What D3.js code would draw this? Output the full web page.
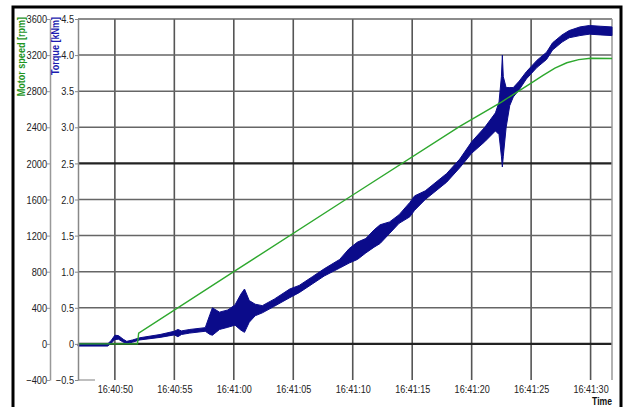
<!DOCTYPE html>
<html lang="en">
<head>
<meta charset="utf-8">
<title>Motor speed and torque</title>
<script src="https://cdn.jsdelivr.net/npm/d3@7"></script>
<style>
  body { margin: 0; background: #fff; }
  svg { font-family: "Liberation Sans", Arial, sans-serif; }
</style>
</head>
<body>
<div id="chart"></div>
<script>
// time is seconds after 16:40:00
var speedSec = [46.9, 51.9, 52.0, 60, 70, 79, 82.5, 85, 86, 87, 88, 89, 90, 91.8];
var speedRpm = [0, 0, 120, 800, 1650, 2410, 2680, 2890, 2975, 3055, 3115, 3150, 3165, 3162];

// torque band (min / max of the noisy trace), kNm
var torqueSec = [46.9, 49.4, 49.7, 50.0, 50.3, 50.7, 51.0, 51.5, 52.1, 53.8, 55.0, 55.3, 55.6, 56.3,
  57.6, 58.0, 58.2, 58.8, 59.5, 60.1, 60.6, 60.9, 61.3, 61.8, 62.4, 63.4, 64.7, 65.5, 66.6, 67.6,
  68.9, 69.7, 70.4, 71.1, 71.8, 72.3, 73.1, 73.9, 74.8, 75.2, 76.1, 77.9, 79.0, 80.0, 81.1, 82.0,
  82.3, 82.5, 82.58, 82.66, 82.9, 83.2, 83.5, 84.0, 84.6, 85.5, 86.3, 86.8, 87.6, 88.2, 89.1,
  89.9, 90.8, 91.8];
var torqueLo = [-0.03, -0.03, 0.01, 0.06, 0.065, 0.025, 0.005, 0.025, 0.055, 0.09, 0.125, 0.10, 0.13, 0.15,
  0.175, 0.13, 0.12, 0.20, 0.23, 0.26, 0.19, 0.16, 0.30, 0.39, 0.43, 0.52, 0.64, 0.71, 0.83, 0.94,
  1.05, 1.12, 1.17, 1.26, 1.34, 1.39, 1.53, 1.67, 1.76, 1.85, 2.00, 2.24, 2.44, 2.64, 2.80, 2.95,
  2.90, 2.60, 2.45, 2.60, 3.00, 3.30, 3.42, 3.52, 3.67, 3.83, 3.94, 4.07, 4.18, 4.24, 4.27,
  4.29, 4.28, 4.27];
var torqueHi = [0.0, 0.0, 0.05, 0.12, 0.115, 0.065, 0.035, 0.055, 0.085, 0.13, 0.175, 0.20, 0.18, 0.20,
  0.225, 0.41, 0.50, 0.44, 0.47, 0.54, 0.69, 0.76, 0.60, 0.55, 0.53, 0.62, 0.76, 0.81, 0.93, 1.04,
  1.17, 1.32, 1.41, 1.46, 1.58, 1.65, 1.69, 1.79, 1.96, 2.05, 2.12, 2.36, 2.56, 2.80, 3.00, 3.20,
  3.35, 3.70, 4.00, 3.70, 3.55, 3.55, 3.55, 3.64, 3.77, 3.93, 4.04, 4.17, 4.28, 4.34, 4.39,
  4.41, 4.40, 4.39];

var rpmTicks = [-400, 0, 400, 800, 1200, 1600, 2000, 2400, 2800, 3200, 3600];
var torqueTicks = [-0.5, 0, 0.5, 1.0, 1.5, 2.0, 2.5, 3.0, 3.5, 4.0, 4.5];

var W = 629, H = 407;
var pl = 78, pr = 612, pt = 19, pb = 380;

function toDate(s) { return new Date(2020, 0, 1, 16, 40, 0, Math.round(s * 1000)); }

var svg = d3.select("#chart").append("svg")
    .attr("width", W)
    .attr("height", H);

// outer frame
svg.append("path")
    .attr("d", "M13,420V7H621V420")
    .attr("fill", "none")
    .attr("stroke", "#000")
    .attr("stroke-width", 3);

var x = d3.scaleTime()
    .domain([toDate(46.9), toDate(91.8)])
    .range([pl, pr]);
var yT = d3.scaleLinear().domain([-0.5, 4.5]).range([pb, pt]);
var yS = d3.scaleLinear().domain([-400, 3600]).range([pb, pt]);

var xTicks = x.ticks(d3.timeSecond.every(5));

// grid
var grid = svg.append("g");
grid.selectAll(".vg")
    .data(xTicks)
    .enter().append("line")
    .attr("x1", function(d) { return x(d); })
    .attr("x2", function(d) { return x(d); })
    .attr("y1", pt).attr("y2", pb)
    .attr("stroke", "#555")
    .attr("stroke-width", 1.6);

grid.selectAll(".hg")
    .data(torqueTicks.filter(function(d) { return d > -0.5; }))
    .enter().append("line")
    .attr("x1", pl).attr("x2", pr)
    .attr("y1", function(d) { return yT(d); })
    .attr("y2", function(d) { return yT(d); })
    .attr("stroke", function(d) { return (d === 0 || d === 2.5) ? "#222" : "#666"; })
    .attr("stroke-width", function(d) { return (d === 0 || d === 2.5) ? 2.2 : 1.5; });

// right border and short bottom piece
grid.append("line")
    .attr("x1", pr).attr("x2", pr).attr("y1", pt).attr("y2", pb)
    .attr("stroke", "#999").attr("stroke-width", 1.5);
grid.append("line")
    .attr("x1", pl).attr("x2", pl + 17).attr("y1", pb).attr("y2", pb)
    .attr("stroke", "#aaa").attr("stroke-width", 1.5);

// torque band
var torque = torqueSec.map(function(s, i) {
    return { t: toDate(s), lo: torqueLo[i], hi: torqueHi[i] };
});
var band = d3.area()
    .x(function(d) { return x(d.t); })
    .y0(function(d) { return yT(d.lo); })
    .y1(function(d) { return yT(d.hi); });
svg.append("path")
    .datum(torque)
    .attr("d", band)
    .attr("fill", "#0b0b8a")
    .attr("stroke", "#0b0b8a")
    .attr("stroke-width", 1)
    .attr("stroke-linejoin", "round");

// motor speed
var speed = speedSec.map(function(s, i) { return { t: toDate(s), v: speedRpm[i] }; });
svg.append("path")
    .datum(speed)
    .attr("d", d3.line()
        .x(function(d) { return x(d.t); })
        .y(function(d) { return yS(d.v); }))
    .attr("fill", "none")
    .attr("stroke", "#2ea82e")
    .attr("stroke-width", 1.4);

// axes
function squeeze(sel, k) {
    sel.selectAll("text").each(function() {
        var w = this.getComputedTextLength();
        d3.select(this).attr("textLength", w * k).attr("lengthAdjust", "spacingAndGlyphs");
    });
}

var xAxis = svg.append("g")
    .attr("transform", "translate(0," + pb + ")")
    .call(d3.axisBottom(x).tickValues(xTicks).tickFormat(d3.timeFormat("%H:%M:%S"))
        .tickSize(0).tickPadding(5));
xAxis.select(".domain").remove();
xAxis.selectAll("text").attr("font-size", 11).attr("fill", "#222");
squeeze(xAxis, 0.82);

var tAxis = svg.append("g")
    .attr("transform", "translate(" + pl + ",0)")
    .call(d3.axisLeft(yT).tickValues(torqueTicks).tickFormat(function(d) {
        return d === 0 ? "0" : d3.format(".1f")(d);
    }).tickSize(3).tickPadding(1).tickSizeOuter(0));
tAxis.select(".domain").attr("stroke", "#888").attr("stroke-width", 1.5);
tAxis.selectAll(".tick line").attr("stroke", "#888");
tAxis.selectAll("text").attr("font-size", 11.5).attr("fill", "#222");
squeeze(tAxis, 0.8);

var sAxis = svg.append("g")
    .attr("transform", "translate(50,0)")
    .call(d3.axisLeft(yS).tickValues(rpmTicks).tickFormat(d3.format("d"))
        .tickSize(3).tickPadding(0).tickSizeOuter(0));
sAxis.select(".domain").attr("stroke", "#999").attr("stroke-width", 1.5);
sAxis.selectAll(".tick line").attr("stroke", "#999");
sAxis.selectAll("text").attr("font-size", 11.5).attr("fill", "#222");
squeeze(sAxis, 0.8);

// titles
var t1 = svg.append("text")
    .attr("transform", "translate(25,17) rotate(-90)")
    .attr("text-anchor", "end")
    .attr("font-size", 10.5)
    .attr("font-weight", "bold")
    .attr("fill", "#1f951f")
    .text("Motor speed [rpm]");
var t2 = svg.append("text")
    .attr("transform", "translate(59,17) rotate(-90)")
    .attr("text-anchor", "end")
    .attr("font-size", 10.5)
    .attr("font-weight", "bold")
    .attr("fill", "#1c1cb0")
    .text("Torque [kNm]");
var t3 = svg.append("text")
    .attr("x", 612).attr("y", 405)
    .attr("text-anchor", "end")
    .attr("font-size", 10)
    .attr("font-weight", "bold")
    .attr("fill", "#111")
    .text("Time");
[t1, t2, t3].forEach(function(t) {
    var n = t.node();
    t.attr("textLength", n.getComputedTextLength() * 0.86).attr("lengthAdjust", "spacingAndGlyphs");
});
</script>
</body>
</html>
